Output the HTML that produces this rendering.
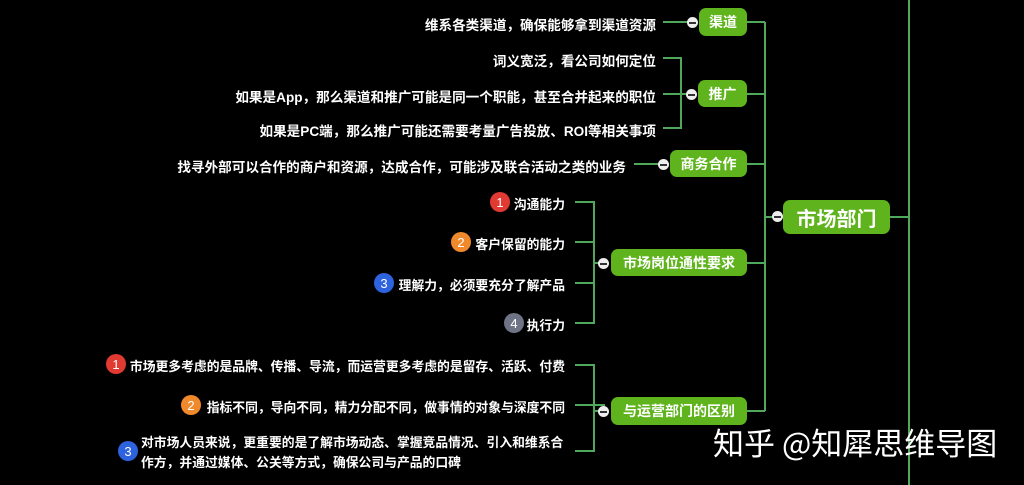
<!DOCTYPE html>
<html><head><meta charset="utf-8"><style>
body{margin:0;width:1024px;height:485px;background:#000;overflow:hidden;position:relative;font-family:"Liberation Sans","Noto Sans CJK SC",sans-serif;}
.n{position:absolute;background:#5fb31c;color:#fff;border-radius:7px;font-weight:bold;display:flex;align-items:center;justify-content:center;font-size:14px;}
.t{position:absolute;color:#fff;font-weight:bold;font-size:12.8px;white-space:nowrap;text-align:right;}
.u{font-size:13.6px;}
.c{position:absolute;width:20px;height:20px;border-radius:50%;color:#fff;font-size:13px;display:flex;align-items:center;justify-content:center;}
.m{position:absolute;width:11px;height:11px;border-radius:50%;background:#eee;}
.m:after{content:"";position:absolute;left:2px;right:2px;top:5px;height:1.5px;background:#333;}
</style></head><body>
<svg width="1024" height="485" style="position:absolute;left:0;top:0" fill="none" stroke="#4fa85c" stroke-width="2">
<line x1="909" y1="0" x2="909" y2="485"/>
<line x1="890" y1="217" x2="909" y2="217"/>
<line x1="765" y1="22" x2="765" y2="411"/>
<line x1="765" y1="217" x2="778" y2="217"/>
<line x1="747" y1="22" x2="765" y2="22"/>
<line x1="747" y1="94" x2="765" y2="94"/>
<line x1="747" y1="164" x2="765" y2="164"/>
<line x1="747" y1="263" x2="765" y2="263"/>
<line x1="747" y1="411" x2="765" y2="411"/>
<line x1="663" y1="22" x2="692" y2="22"/>
<polyline points="663,58 681,58 681,128 663,128"/>
<line x1="663" y1="94" x2="692" y2="94"/>
<line x1="634" y1="164" x2="663" y2="164"/>
<polyline points="575,202 594,202 594,323 575,323"/>
<line x1="575" y1="242" x2="594" y2="242"/>
<line x1="575" y1="283" x2="594" y2="283"/>
<line x1="594" y1="263" x2="605" y2="263"/>
<polyline points="575,365 594,365 594,451 575,451"/>
<line x1="575" y1="405" x2="605" y2="405"/>
<line x1="594" y1="411" x2="605" y2="411"/>
</svg>
<div class="n" style="left:783px;top:200px;width:107px;height:34px;font-size:20px">市场部门</div>
<div class="m" style="left:772px;top:211px"></div>
<div class="n" style="left:699px;top:8px;width:48px;height:28px">渠道</div>
<div class="m" style="left:687px;top:17px"></div>
<div class="n" style="left:698px;top:80px;width:49px;height:27px">推广</div>
<div class="m" style="left:686px;top:89px"></div>
<div class="n" style="left:670px;top:150px;width:77px;height:27px">商务合作</div>
<div class="m" style="left:658px;top:159px"></div>
<div class="n" style="left:611px;top:249px;width:136px;height:27px">市场岗位通性要求</div>
<div class="m" style="left:598px;top:258px"></div>
<div class="n" style="left:611px;top:397px;width:136px;height:28px">与运营部门的区别</div>
<div class="m" style="left:598px;top:406px"></div>

<div class="t u" style="right:368px;top:14px">维系各类渠道，确保能够拿到渠道资源</div>
<div class="t u" style="right:368px;top:50px">词义宽泛，看公司如何定位</div>
<div class="t u" style="right:368px;top:86px">如果是App，那么渠道和推广可能是同一个职能，甚至合并起来的职位</div>
<div class="t u" style="right:368px;top:120px">如果是PC端，那么推广可能还需要考量广告投放、ROI等相关事项</div>
<div class="t u" style="right:398px;top:156px">找寻外部可以合作的商户和资源，达成合作，可能涉及联合活动之类的业务</div>

<div class="c" style="left:490px;top:192px;background:#e03a33">1</div>
<div class="t" style="right:459px;top:194px">沟通能力</div>
<div class="c" style="left:451px;top:232px;background:#f0892c">2</div>
<div class="t" style="right:459px;top:234px">客户保留的能力</div>
<div class="c" style="left:374px;top:273px;background:#2e63e0">3</div>
<div class="t" style="right:459px;top:275px">理解力，必须要充分了解产品</div>
<div class="c" style="left:504px;top:313px;background:#6e7385">4</div>
<div class="t" style="right:459px;top:315px">执行力</div>

<div class="c" style="left:106px;top:354px;background:#e03a33">1</div>
<div class="t" style="right:459px;top:356px">市场更多考虑的是品牌、传播、导流，而运营更多考虑的是留存、活跃、付费</div>
<div class="c" style="left:181px;top:395px;background:#f0892c">2</div>
<div class="t" style="right:459px;top:397px">指标不同，导向不同，精力分配不同，做事情的对象与深度不同</div>
<div class="c" style="left:118px;top:441px;background:#2e63e0">3</div>
<div class="t" style="left:141px;top:433px;text-align:left;line-height:20px">对市场人员来说，更重要的是了解市场动态、掌握竞品情况、引入和维系合<br>作方，并通过媒体、公关等方式，确保公司与产品的口碑</div>

<div style="position:absolute;left:713px;top:419px;color:#fff;font-size:31px;white-space:nowrap;font-family:'Noto Sans CJK SC',sans-serif">知乎 @知犀思维导图</div>
</body></html>
